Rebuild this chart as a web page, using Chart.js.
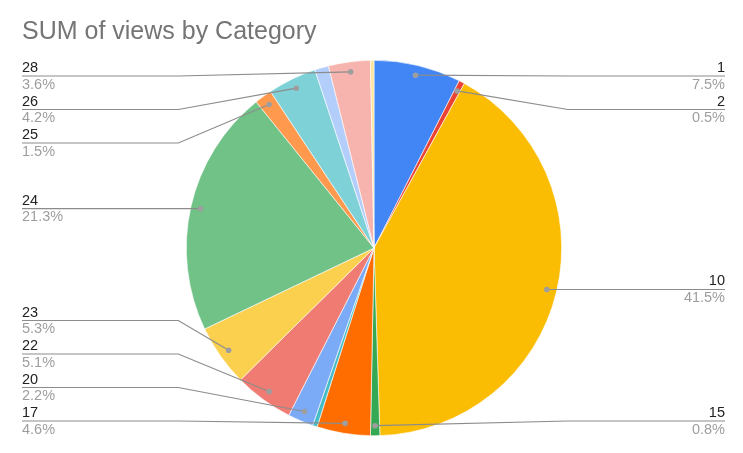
<!DOCTYPE html>
<html>
<head>
<meta charset="utf-8">
<script src="https://cdn.jsdelivr.net/npm/chart.js@4.4.1/dist/chart.umd.min.js"></script>
<style>
  html, body { margin: 0; padding: 0; background: #fff; }
  #wrap { position: relative; width: 743px; height: 453px; }
</style>
</head>
<body>
<div id="wrap"><canvas id="pie"></canvas></div>
<script>
// --- data (share of views, %) ---
const categories = ['1', '2', '10', '15', '17', '19', '20', '22', '23', '24', '25', '26', '27', '28', '29'];
const shares = [7.5, 0.5, 41.5, 0.8, 4.6, 0.4, 2.2, 5.1, 5.3, 21.3, 1.5, 4.2, 1.2, 3.6, 0.3];
// only these slices get a callout in the original
const labelled = ['1', '2', '10', '15', '17', '20', '22', '23', '24', '25', '26', '28'];
const sliceColors = ['#4285F4', '#EA4335', '#FBBC04', '#34A853', '#FF6D01', '#46BDC6', '#7BAAF7', '#F07B72',
                     '#FCD04F', '#71C287', '#FF994D', '#7ED1D7', '#B3CEFB', '#F7B4AE', '#FDE49B'];
const chartTitle = 'SUM of views by Category';

const FONT = '"Liberation Sans", Arial, sans-serif';

// draws the title and the google-style callouts
const calloutPlugin = {
    id: 'callouts',
    afterDraw(chart) {
        const ctx = chart.ctx;
        const meta = chart.getDatasetMeta(0);
        const area = chart.chartArea;
        const total = shares.reduce((a, b) => a + b, 0);

        ctx.save();
        ctx.font = '25px ' + FONT;
        ctx.fillStyle = '#757575';
        ctx.textAlign = 'left';
        ctx.textBaseline = 'alphabetic';
        ctx.fillText(chartTitle, 22, 39);

        const left = [], right = [];
        meta.data.forEach((arc, i) => {
            if (!labelled.includes(categories[i])) return;
            const p = arc.getProps(['x', 'y', 'startAngle', 'endAngle', 'outerRadius'], true);
            const mid = (p.startAngle + p.endAngle) / 2;
            const r = p.outerRadius - 10;
            const item = {
                i, cx: p.x, R: p.outerRadius,
                dx: p.x + Math.cos(mid) * r,
                dy: p.y + Math.sin(mid) * r
            };
            item.ly = item.dy;
            (Math.cos(mid) >= 0 ? right : left).push(item);
        });

        // stack the labels so they never overlap
        const top = area.top + 16, bottom = area.bottom - 15, gap = 33.5;
        [left, right].forEach(list => {
            list.sort((a, b) => a.dy - b.dy);
            for (let k = 0; k < list.length; k++) {
                let y = Math.max(list[k].ly, top);
                if (k > 0) y = Math.max(y, list[k - 1].ly + gap);
                list[k].ly = y;
            }
            for (let k = list.length - 1; k >= 0; k--) {
                let y = Math.min(list[k].ly, bottom);
                if (k < list.length - 1) y = Math.min(y, list[k + 1].ly - gap);
                list[k].ly = y;
            }
        });

        const drawOne = (it, side) => {
            const textX = side === 'left' ? 22 : 725;
            const kinkX = side === 'left' ? it.cx - it.R - 8 : it.cx + it.R + 6;
            ctx.strokeStyle = '#8c8c8c';
            ctx.lineWidth = 1.2;
            ctx.beginPath();
            ctx.moveTo(textX, it.ly);
            if ((side === 'left' && kinkX < it.dx) || (side === 'right' && kinkX > it.dx)) {
                ctx.lineTo(kinkX, it.ly);
            }
            ctx.lineTo(it.dx, it.dy);
            ctx.stroke();

            ctx.fillStyle = '#9e9e9e';
            ctx.beginPath();
            ctx.arc(it.dx, it.dy, 2.8, 0, Math.PI * 2);
            ctx.fill();

            ctx.textAlign = side;
            ctx.font = '14.5px ' + FONT;
            ctx.fillStyle = '#222222';
            ctx.fillText(categories[it.i], textX, it.ly - 4);
            ctx.fillStyle = '#9e9e9e';
            ctx.fillText((shares[it.i] / total * 100).toFixed(1) + '%', textX, it.ly + 12.5);
        };
        left.forEach(it => drawOne(it, 'left'));
        right.forEach(it => drawOne(it, 'right'));
        ctx.restore();
    }
};

new Chart(document.getElementById('pie'), {
    type: 'pie',
    data: {
        labels: categories,
        datasets: [{
            data: shares,
            backgroundColor: sliceColors,
            borderColor: '#ffffff',
            borderWidth: 0.6
        }]
    },
    options: {
        responsive: true,
        maintainAspectRatio: false,
        animation: false,
        layout: { padding: { top: 60, bottom: 17, left: 186, right: 181 } },
        plugins: {
            legend: { display: false },
            tooltip: { enabled: false },
            title: { display: false }
        }
    },
    plugins: [calloutPlugin]
});
</script>
</body>
</html>
